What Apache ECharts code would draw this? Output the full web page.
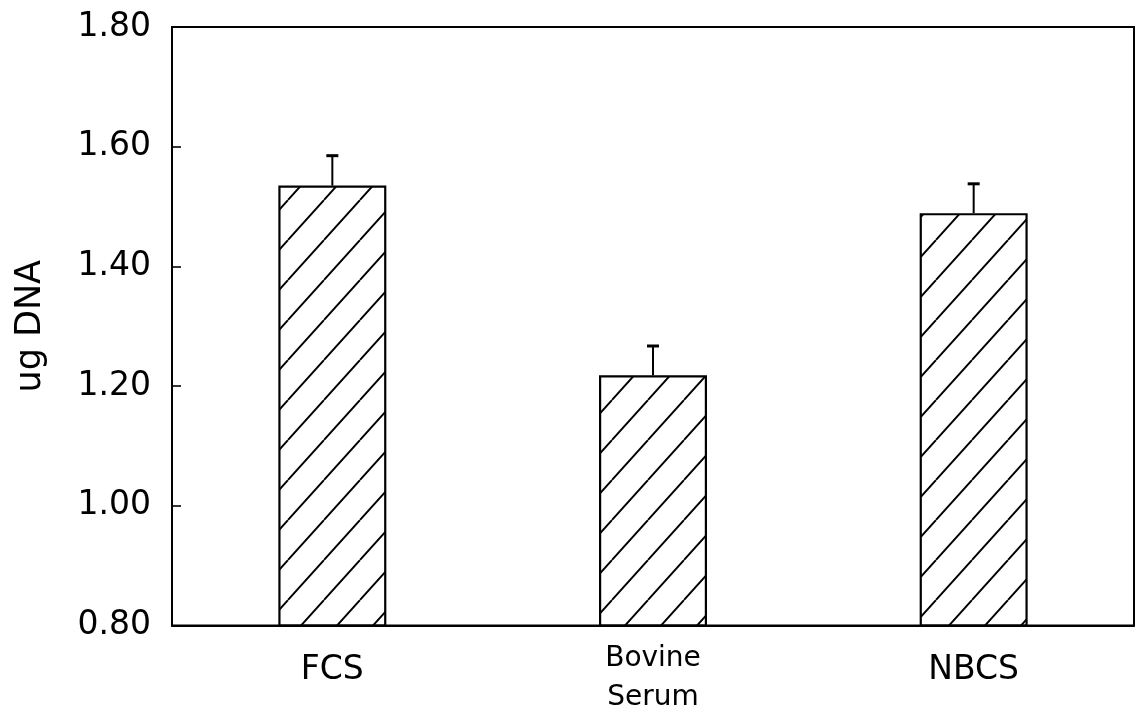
<!DOCTYPE html>
<html>
<head>
<meta charset="utf-8">
<script src="https://cdn.jsdelivr.net/npm/echarts@6/dist/echarts.min.js"></script>
<style>
    html, body { margin: 0; padding: 0; background: #fff; }
    #chart { width: 1139px; height: 712px; }
</style>
</head>
<body>
<div id="chart"></div>
<script>
    // data
    const categories = ['FCS', 'Bovine\nSerum', 'NBCS']
    const means = [1.535, 1.218, 1.489]
    const upperErr = [1.585, 1.267, 1.538]
    const yTicks = { min: 0.8, max: 1.8, step: 0.2 }

    // diagonal hatch tile
    function hatch() {
        const w = 36, h = 40
        const c = document.createElement('canvas')
        c.width = w
        c.height = h
        const ctx = c.getContext('2d')
        ctx.strokeStyle = '#000'
        ctx.lineWidth = 1.9
        ctx.beginPath()
        // main diagonal plus neighbours so the tile joins up
        for (let k = -1; k <= 1; k++) {
            ctx.moveTo(k * w, h)
            ctx.lineTo(k * w + w, 0)
        }
        ctx.stroke()
        return c
    }

    const font = 'DejaVu Sans'
    const chart = echarts.init(document.getElementById('chart'), null, { renderer: 'canvas' })

    const option = {
        backgroundColor: '#fff',
        animation: false,
        grid: {
            left: 172, right: 5, top: 27, bottom: 86,
            show: true,
            borderColor: '#000',
            borderWidth: 2,
            backgroundColor: 'transparent'
        },
        xAxis: {
            type: 'category',
            data: categories,
            axisLine: { lineStyle: { color: '#000', width: 2 } },
            axisTick: { show: false },
            axisLabel: {
                color: '#000',
                margin: 14,
                interval: 0,
                formatter: function (v) {
                    if (v.indexOf('\n') > -1) return '{s|' + v.split('\n').join('}\n{s|') + '}'
                    return '{b|' + v + '}'
                },
                rich: {
                    b: { fontFamily: font, fontSize: 33, color: '#000', lineHeight: 62 },
                    s: { fontFamily: font, fontSize: 28, color: '#000', lineHeight: 39 }
                }
            }
        },
        yAxis: {
            type: 'value',
            min: yTicks.min,
            max: yTicks.max,
            interval: yTicks.step,
            name: 'ug DNA',
            nameLocation: 'middle',
            nameGap: 124,
            nameRotate: 90,
            nameTextStyle: { fontFamily: font, fontSize: 35, color: '#000' },
            axisLine: { show: true, lineStyle: { color: '#000', width: 1.6 } },
            axisTick: { show: true, inside: true, length: 9, lineStyle: { color: '#000', width: 1.6 } },
            splitLine: { show: false },
            axisLabel: {
                color: '#000',
                fontFamily: font,
                fontSize: 33,
                margin: 21,
                formatter: v => v.toFixed(2)
            }
        },
        series: [
            {
                type: 'bar',
                data: means,
                barWidth: 108,
                itemStyle: {
                    color: { image: hatch(), repeat: 'repeat' },
                    borderColor: '#000',
                    borderWidth: 2.2
                },
                z: 2
            },
            {
                type: 'custom',
                data: means.map((m, i) => [i, m, upperErr[i]]),
                encode: { x: 0, y: [1, 2] },
                renderItem: function (params, api) {
                    const i = api.value(0)
                    const base = api.coord([i, api.value(1)])
                    const top = api.coord([i, api.value(2)])
                    const half = 6
                    return {
                        type: 'group',
                        children: [
                            { type: 'line', shape: { x1: base[0], y1: base[1], x2: top[0], y2: top[1] }, style: { stroke: '#000', lineWidth: 2 } },
                            { type: 'line', shape: { x1: top[0] - half, y1: top[1], x2: top[0] + half, y2: top[1] }, style: { stroke: '#000', lineWidth: 3 } }
                        ]
                    }
                },
                z: 3
            }
        ]
    }

    chart.setOption(option)
</script>
</body>
</html>
